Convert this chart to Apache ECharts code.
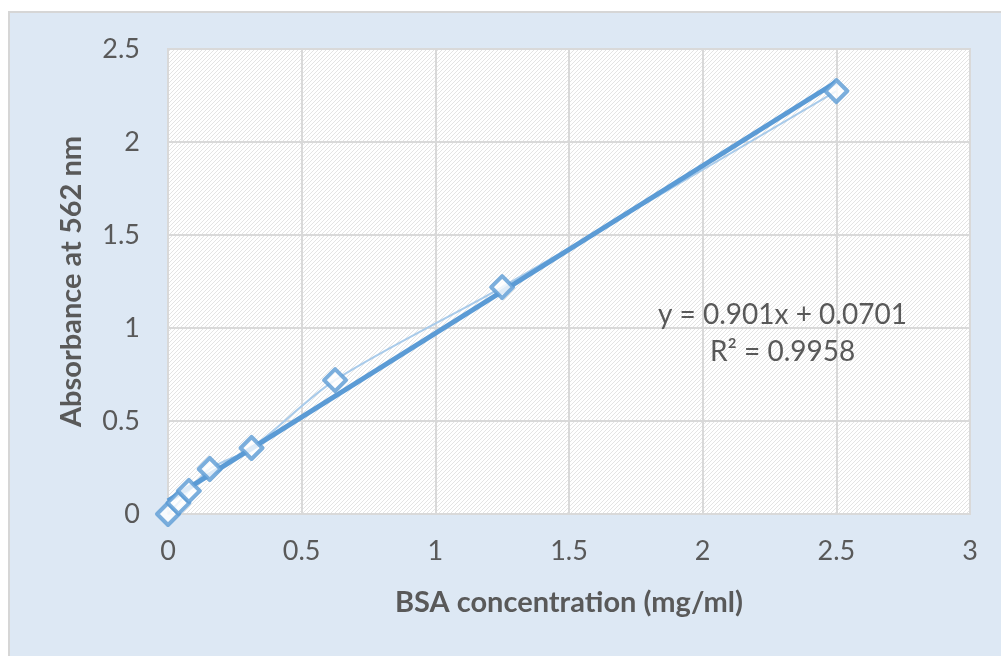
<!DOCTYPE html>
<html>
<head>
<meta charset="utf-8">
<script src="https://cdn.jsdelivr.net/npm/echarts@6/dist/echarts.min.js"></script>
<style>
  html, body { margin: 0; padding: 0; background: #fff; }
  #main { width: 1001px; height: 656px; }
</style>
</head>
<body>
<div id="main"></div>
<script>
// BSA standard curve
var concentration = [0, 0.039, 0.078, 0.156, 0.3125, 0.625, 1.25, 2.5];
var absorbance = [0, 0.06, 0.124, 0.242, 0.355, 0.72, 1.22, 2.274];
// linear trendline ends (y = 0.901x + 0.0701)
var trendX = [0, 2.5];
var trendY = [0.0701, 2.3226];
var xTicks = [0, 0.5, 1, 1.5, 2, 2.5, 3];
var yTicks = [0, 0.5, 1, 1.5, 2, 2.5];
var equationText = 'y = 0.901x + 0.0701';
var r2Text = 'R² = 0.9958';

var FONT = 'Lato, "Noto Sans", sans-serif';
var TXT = '#595959';
var BLUE = '#5b9bd5';

// diagonal hatch for the plot area
var hatch = document.createElement('canvas');
hatch.width = 4; hatch.height = 4;
var hc = hatch.getContext('2d');
hc.fillStyle = '#ffffff';
hc.fillRect(0, 0, 4, 4);
hc.strokeStyle = '#e4e4e4';
hc.lineWidth = 1;
hc.beginPath();
hc.moveTo(0, 4); hc.lineTo(4, 0);
hc.moveTo(-1, 1); hc.lineTo(1, -1);
hc.moveTo(3, 5); hc.lineTo(5, 3);
hc.stroke();

var chart = echarts.init(document.getElementById('main'));

var points = concentration.map(function (x, i) { return [x, absorbance[i]]; });
var trend = trendX.map(function (x, i) { return [x, trendY[i]]; });

var option = {
  backgroundColor: '#ffffff',
  animation: false,
  graphic: [
    {
      type: 'rect', z: -10, silent: true,
      shape: { x: 9, y: 12, width: 1010, height: 660 },
      style: { fill: '#dde8f4', stroke: '#d6d6d6', lineWidth: 2 }
    },
    {
      type: 'text', left: 658, top: 301, z: 10,
      style: { text: equationText, font: '28px ' + FONT, fill: TXT }
    },
    {
      type: 'text', left: 710, top: 338, z: 10,
      style: { text: r2Text, font: '28px ' + FONT, fill: TXT }
    }
  ],
  grid: {
    left: 168, right: 31, top: 49, bottom: 142,
    show: true,
    backgroundColor: { image: hatch, repeat: 'repeat' },
    borderColor: '#d9d9d9',
    borderWidth: 2
  },
  xAxis: {
    type: 'value', min: 0, max: 3, interval: 0.5,
    name: 'BSA concentration (mg/ml)',
    nameLocation: 'middle', nameGap: 74,
    nameTextStyle: { color: TXT, fontFamily: FONT, fontSize: 29, fontWeight: 'bold' },
    axisLine: { show: false },
    axisTick: { show: false },
    axisLabel: {
      color: TXT, fontFamily: FONT, fontSize: 27, margin: 24,
      formatter: function (v) { return xTicks.indexOf(v) >= 0 ? String(v) : ''; }
    },
    splitLine: { show: true, lineStyle: { color: '#d9d9d9', width: 2 } }
  },
  yAxis: {
    type: 'value', min: 0, max: 2.5, interval: 0.5,
    name: 'Absorbance at 562 nm',
    nameLocation: 'middle', nameGap: 82,
    nameTextStyle: { color: TXT, fontFamily: FONT, fontSize: 29, fontWeight: 'bold' },
    axisLine: { show: false },
    axisTick: { show: false },
    axisLabel: {
      color: TXT, fontFamily: FONT, fontSize: 27, margin: 28,
      formatter: function (v) { return yTicks.indexOf(v) >= 0 ? String(v) : ''; }
    },
    splitLine: { show: true, lineStyle: { color: '#d9d9d9', width: 2 } }
  },
  series: [
    {
      name: 'data line',
      type: 'line',
      data: points,
      smooth: 0.3,
      symbol: 'none',
      z: 2,
      lineStyle: { color: '#a9cbea', width: 2 }
    },
    {
      name: 'trend',
      type: 'line',
      data: trend,
      symbol: 'none',
      z: 3,
      lineStyle: { color: BLUE, width: 5 }
    },
    {
      name: 'points',
      type: 'scatter',
      data: points,
      symbol: 'diamond',
      symbolSize: 22,
      z: 4,
      itemStyle: { color: '#ffffff', borderColor: BLUE, borderWidth: 4, borderJoin: 'round' }
    }
  ]
};

chart.setOption(option);
</script>
</body>
</html>
